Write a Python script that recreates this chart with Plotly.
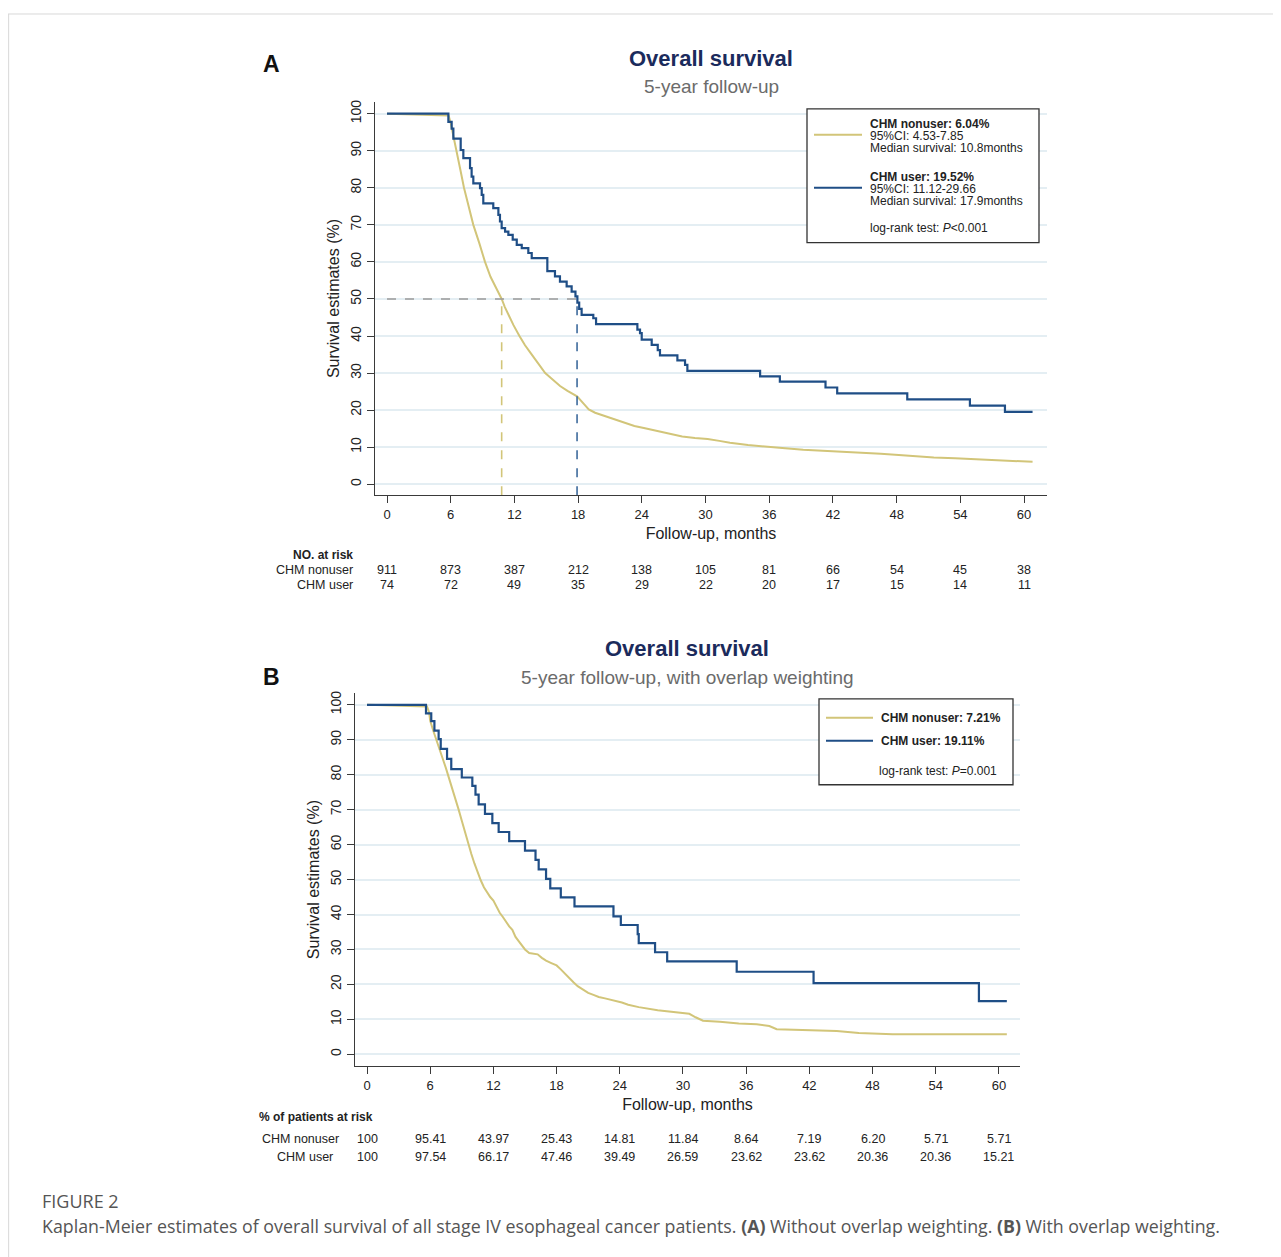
import plotly.graph_objects as go

# the page body adds an 8px margin, so the figure is drawn 8px smaller and offset
OFF = 8
W, H = 1281 - OFF, 1257 - OFF

# ---------------- data ----------------
months_ticks = [0, 6, 12, 18, 24, 30, 36, 42, 48, 54, 60]
y_ticks = [0, 10, 20, 30, 40, 50, 60, 70, 80, 90, 100]

# Panel A (unweighted)
a_nonuser_t = [0, 5.8, 6.0, 6.3, 6.5, 6.9, 7.25, 7.7, 8.13, 8.7, 9.23, 9.75, 10.1, 10.45, 10.8,
               11.1, 11.44, 11.9, 12.46, 13.0, 13.5, 13.9, 14.4, 14.9, 15.3, 15.7, 16.3, 17.0,
               17.9, 18.6, 19.0, 19.6, 20.4, 21.3, 22.3, 23.3, 24.3, 25.3, 26.5, 27.8, 29.0,
               30.2, 31.3, 32.3, 34.0, 36.0, 37.5, 39.2, 41.5, 44.5, 46.5, 48.2, 50.0, 51.5,
               53.5, 55.6, 57.5, 59.5, 60.2, 60.8]
a_nonuser_s = [100, 99.5, 97.5, 93.0, 90.0, 85.0, 80.0, 75.0, 70.0, 65.0, 60.0, 56.0, 54.0, 52.0, 50.0,
               47.8, 45.7, 43.0, 40.1, 37.5, 35.5, 34.0, 32.0, 30.0, 29.0, 28.0, 26.5, 25.2,
               23.7, 21.5, 20.2, 19.3, 18.5, 17.8, 16.6, 15.7, 15.1, 14.5, 13.6, 12.9, 12.5,
               12.2, 11.7, 11.2, 10.6, 10.0, 9.7, 9.3, 9.0, 8.6, 8.2, 7.9, 7.5, 7.2,
               7.0, 6.7, 6.4, 6.1, 6.04, 6.04]
a_user_t = [0, 5.78, 6.09, 6.25, 6.94, 7.19, 7.82, 7.97, 8.13, 8.76, 8.92, 9.07, 10.01, 10.49,
            10.64, 10.80, 11.12, 11.43, 11.84, 12.22, 12.69, 13.31, 13.63, 15.10, 15.82, 16.29,
            16.92, 17.39, 17.75, 17.93, 18.10, 18.33, 19.43, 19.69, 23.58, 23.83, 23.99, 24.93,
            25.50, 25.71, 27.35, 28.07, 28.29, 35.14, 37.0, 41.3, 42.4, 49.0, 54.9, 58.2, 60.8]
a_user_s = [100, 97.8, 96.0, 93.3, 90.2, 88.0, 85.3, 83.0, 81.2, 79.9, 78.1, 75.8, 74.5, 72.7,
            70.9, 69.1, 68.2, 67.3, 66.0, 64.6, 63.7, 62.4, 61.0, 57.5, 56.1, 54.7,
            53.4, 52.0, 50.7, 49.0, 47.3, 45.7, 44.8, 43.2, 41.7, 40.8, 39.0, 37.6,
            36.2, 34.8, 33.4, 32.2, 30.6, 29.1, 27.7, 26.1, 24.5, 22.9, 21.2, 19.52, 19.52]
a_median_nonuser = 10.8
a_median_user = 17.9
a_risk_nonuser = ["911", "873", "387", "212", "138", "105", "81", "66", "54", "45", "38"]
a_risk_user = ["74", "72", "49", "35", "29", "22", "20", "17", "15", "14", "11"]

# Panel B (overlap weighting)
b_nonuser_t = [0, 5.7, 5.9, 6.0, 6.3, 6.6, 6.9, 7.2, 7.5, 7.8, 8.1, 8.4, 8.7, 9.0, 9.3, 9.6, 9.9,
               10.2, 10.5, 10.8, 11.1, 11.4, 11.7, 12.0, 12.3, 12.6, 12.9, 13.2, 13.5, 13.8, 14.1,
               14.4, 14.7, 15.0, 15.4, 16.2, 16.6, 17.0, 17.5, 18.0, 18.4, 18.8, 19.2, 19.6, 20.0,
               20.5, 21.0, 21.5, 22.0, 22.6, 23.2, 23.8, 24.2, 24.8, 25.3, 25.8, 27.6, 28.3, 29.8,
               30.6, 31.2, 31.9, 33.5, 35.3, 37.0, 38.2, 38.9, 44.6, 46.7, 49.9, 60.75]
b_nonuser_s = [100, 99.5, 97.8, 95.41, 92.5, 89.6, 87.2, 84.5, 81.8, 79.0, 76.0, 73.0, 70.0, 66.8,
               63.5, 60.3, 57.4, 54.6, 52.0, 49.8, 47.8, 46.2, 45.0, 43.97, 42.0, 40.5, 39.3, 37.8,
               36.6, 35.6, 33.6, 32.4, 31.2, 30.0, 29.0, 28.6, 27.6, 26.8, 26.1, 25.43, 24.3, 23.0,
               21.9, 20.6, 19.5, 18.5, 17.6, 17.0, 16.4, 16.0, 15.6, 15.1, 14.81, 14.2, 13.8, 13.5,
               12.6, 12.4, 11.84, 11.6, 10.6, 9.6, 9.3, 8.8, 8.6, 8.1, 7.2, 6.7, 6.1, 5.71, 5.71]
b_user_t = [0, 5.6, 6.1, 6.4, 6.8, 7.0, 7.6, 8.0, 9.0, 10.0, 10.3, 10.6, 11.2, 11.9, 12.5, 13.5,
            15.0, 16.0, 16.3, 17.0, 17.4, 18.4, 19.7, 23.4, 24.1, 25.7, 25.8, 27.35, 28.5, 35.1,
            42.4, 58.1, 60.75]
b_user_s = [100, 97.54, 95.3, 92.6, 90.2, 87.4, 84.5, 81.6, 79.2, 76.8, 74.3, 71.5, 68.8, 66.17,
            63.6, 61.0, 58.3, 55.6, 52.9, 50.2, 47.46, 44.9, 42.3, 39.49, 37.0, 34.4, 31.8, 29.2,
            26.59, 23.62, 20.36, 15.21, 15.21]
b_risk_nonuser = ["100", "95.41", "43.97", "25.43", "14.81", "11.84", "8.64", "7.19", "6.20", "5.71", "5.71"]
b_risk_user = ["100", "97.54", "66.17", "47.46", "39.49", "26.59", "23.62", "23.62", "20.36", "20.36", "15.21"]

# ---------------- styles ----------------
YEL = "#d2c579"
BLU = "#1f4e86"
NAVY = "#1b2b5c"
GRID = "#e4eef3"
AX = "#3a3a3a"
NARROW = "Liberation Sans Narrow, Arial Narrow, Liberation Sans, Arial, sans-serif"
SANS = "Liberation Sans, Arial, sans-serif"
CAP = "Open Sans, Noto Sans, sans-serif"


def PX(x):
    return (x - OFF) / W


def PY(y):
    return 1 - (y - OFF) / H


fig = go.Figure()

# Panel A curves
fig.add_trace(go.Scatter(x=a_nonuser_t, y=a_nonuser_s, mode="lines", line=dict(color=YEL, width=2),
                         xaxis="x", yaxis="y", showlegend=False))
fig.add_trace(go.Scatter(x=a_user_t, y=a_user_s, mode="lines", line=dict(color=BLU, width=2.2, shape="hv"),
                         xaxis="x", yaxis="y", showlegend=False))
# median reference lines
fig.add_trace(go.Scatter(x=[0, a_median_user], y=[50, 50], mode="lines",
                         line=dict(color="#9a9a9a", width=1.6, dash="dash"), xaxis="x", yaxis="y", showlegend=False))
fig.add_trace(go.Scatter(x=[a_median_nonuser, a_median_nonuser], y=[-3, 50], mode="lines",
                         line=dict(color=YEL, width=1.6, dash="dash"), xaxis="x", yaxis="y", showlegend=False))
fig.add_trace(go.Scatter(x=[a_median_user, a_median_user], y=[-3, 50], mode="lines",
                         line=dict(color="#3d6a9c", width=1.6, dash="dash"), xaxis="x", yaxis="y", showlegend=False))

# Panel B curves
fig.add_trace(go.Scatter(x=b_nonuser_t, y=b_nonuser_s, mode="lines", line=dict(color=YEL, width=2),
                         xaxis="x2", yaxis="y2", showlegend=False))
fig.add_trace(go.Scatter(x=b_user_t, y=b_user_s, mode="lines", line=dict(color=BLU, width=2.2, shape="hv"),
                         xaxis="x2", yaxis="y2", showlegend=False))

common_x = dict(tickvals=months_ticks, ticks="outside", ticklen=7, tickcolor=AX, showline=True,
                linecolor=AX, linewidth=1.3, showgrid=False, zeroline=False,
                tickfont=dict(family=NARROW, size=13, color="#222"),
                title=dict(text="Follow-up, months", font=dict(family=SANS, size=16, color="#222"), standoff=6))
common_y = dict(tickvals=y_ticks, ticks="outside", ticklen=7, tickcolor=AX, showline=True,
                linecolor=AX, linewidth=1.3, showgrid=True, gridcolor=GRID, gridwidth=1.6, zeroline=False,
                tickangle=-90, tickfont=dict(family=SANS, size=14, color="#222"),
                title=dict(text="Survival estimates (%)", font=dict(family=SANS, size=16, color="#222"), standoff=4))

fig.update_layout(
    width=W, height=H, autosize=False,
    margin=dict(l=0, r=0, t=0, b=0),
    paper_bgcolor="white", plot_bgcolor="white",
    xaxis=dict(domain=[PX(375), PX(1047)], range=[-1.13, 62.16], anchor="y", **common_x),
    yaxis=dict(domain=[PY(494), PY(100)], range=[-2.97, 103.2], anchor="x", **common_y),
    xaxis2=dict(domain=[PX(355), PX(1020)], range=[-1.14, 62.0], anchor="y2", **common_x),
    yaxis2=dict(domain=[PY(1066), PY(692)], range=[-3.43, 103.4], anchor="x2", **common_y),
)

ann = []
shapes = []


def text(x, y, s, size=12, family=SANS, color="#222", xanchor="left"):
    ann.append(dict(x=PX(x), y=PY(y), xref="paper", yref="paper", text=s,
                    showarrow=False, xanchor=xanchor, yanchor="middle",
                    font=dict(family=family, size=size, color=color)))


def risk(month, y, s, xref):
    ann.append(dict(x=month, y=PY(y), xref=xref, yref="paper", text=s, showarrow=False, xanchor="center",
                    yanchor="middle", font=dict(family=NARROW, size=12.5, color="#222")))


# Page frame lines
shapes.append(dict(type="line", xref="paper", yref="paper", x0=0, x1=1, y0=PY(12), y1=PY(12),
                   line=dict(color="#d8d8d8", width=1)))
shapes.append(dict(type="line", xref="paper", yref="paper", x0=0.0005, x1=0.0005, y0=0, y1=PY(12),
                   line=dict(color="#d8d8d8", width=1)))

# Panel A titles
text(271, 62, "<b>A</b>", size=23, color="#111", xanchor="center")
text(711, 57, "<b>Overall survival</b>", size=22, color=NAVY, xanchor="center")
text(711, 85, "5-year follow-up", size=19, color="#6b6b6b", xanchor="center")

# Panel A legend
shapes.append(dict(type="rect", xref="paper", yref="paper", x0=PX(807), x1=PX(1039), y0=PY(241), y1=PY(107),
                   line=dict(color="#333", width=1.3), fillcolor="white"))
shapes.append(dict(type="line", xref="paper", yref="paper", x0=PX(814), x1=PX(862), y0=PY(133), y1=PY(133),
                   line=dict(color=YEL, width=2)))
shapes.append(dict(type="line", xref="paper", yref="paper", x0=PX(814), x1=PX(862), y0=PY(186), y1=PY(186),
                   line=dict(color=BLU, width=2)))
text(868, 122, "<b>CHM nonuser: 6.04%</b>", size=12)
text(868, 134, "95%CI: 4.53-7.85", size=12)
text(868, 146, "Median survival: 10.8months", size=12)
text(868, 175, "<b>CHM user: 19.52%</b>", size=12)
text(868, 187, "95%CI: 11.12-29.66", size=12)
text(868, 199, "Median survival: 17.9months", size=12)
text(868, 226, "log-rank test: <i>P</i>&lt;0.001", size=12)

# Panel A risk table
text(355, 554, "<b>NO. at risk</b>", size=12, family=NARROW, xanchor="right")
text(355, 569, "CHM nonuser", size=12.5, family=NARROW, xanchor="right")
text(355, 584, "CHM user", size=12.5, family=NARROW, xanchor="right")
for m, v1, v2 in zip(months_ticks, a_risk_nonuser, a_risk_user):
    risk(m, 569, v1, "x")
    risk(m, 584, v2, "x")

# Panel B titles
text(271, 676, "<b>B</b>", size=23, color="#111", xanchor="center")
text(687, 648, "<b>Overall survival</b>", size=22, color=NAVY, xanchor="center")
text(687, 677, "5-year follow-up, with overlap weighting", size=19, color="#6b6b6b", xanchor="center")

# Panel B legend
shapes.append(dict(type="rect", xref="paper", yref="paper", x0=PX(819), x1=PX(1013), y0=PY(784), y1=PY(698),
                   line=dict(color="#333", width=1.3), fillcolor="white"))
shapes.append(dict(type="line", xref="paper", yref="paper", x0=PX(826), x1=PX(873), y0=PY(717), y1=PY(717),
                   line=dict(color=YEL, width=2)))
shapes.append(dict(type="line", xref="paper", yref="paper", x0=PX(826), x1=PX(873), y0=PY(740), y1=PY(740),
                   line=dict(color=BLU, width=2)))
text(879, 717, "<b>CHM nonuser: 7.21%</b>", size=12, family=NARROW)
text(879, 740, "<b>CHM user: 19.11%</b>", size=12, family=NARROW)
text(999, 770, "log-rank test: <i>P</i>=0.001", size=12, family=NARROW, xanchor="right")

# Panel B risk table
text(257, 1117, "<b>% of patients at risk</b>", size=12, family=NARROW, xanchor="left")
text(341, 1139, "CHM nonuser", size=12.5, family=NARROW, xanchor="right")
text(335, 1157, "CHM user", size=12.5, family=NARROW, xanchor="right")
for m, v1, v2 in zip(months_ticks, b_risk_nonuser, b_risk_user):
    risk(m, 1139, v1, "x2")
    risk(m, 1157, v2, "x2")

# Caption
text(40, 1201, "FIGURE 2", size=18, family=CAP, color="#555")
text(40, 1226, "Kaplan-Meier estimates of overall survival of all stage IV esophageal cancer patients. "
               "<b>(A)</b> Without overlap weighting. <b>(B)</b> With overlap weighting.",
     size=17.8, family=CAP, color="#555")

fig.update_layout(annotations=ann, shapes=shapes)
fig.write_html("out.html")
